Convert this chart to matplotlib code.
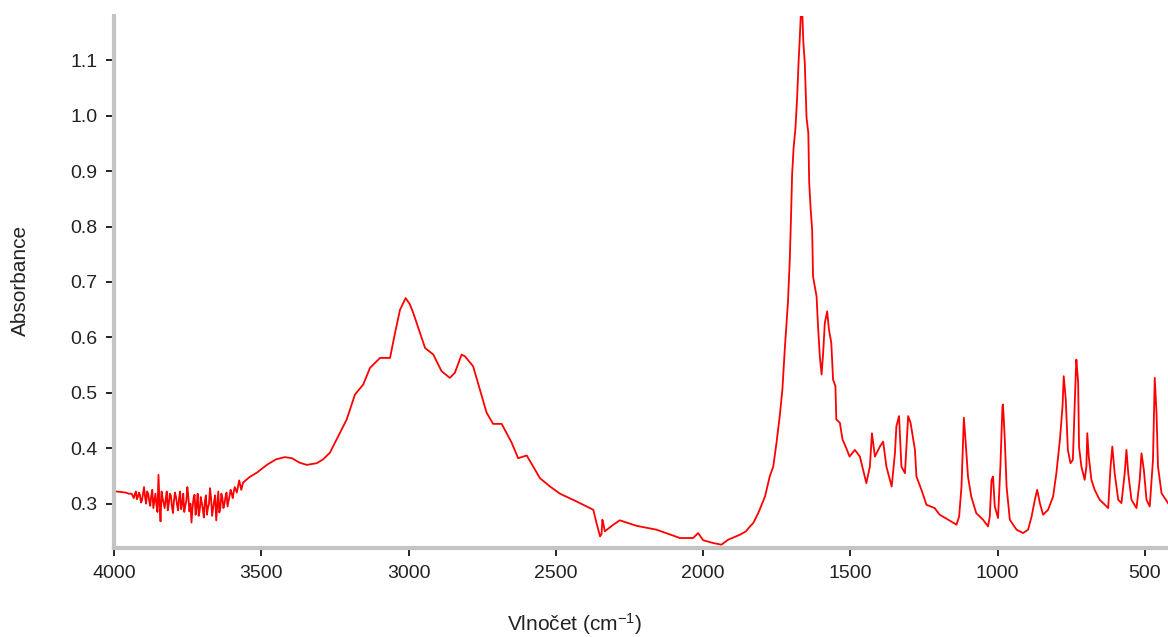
import matplotlib
matplotlib.use("Agg")
import matplotlib.pyplot as plt
from matplotlib.ticker import MultipleLocator

plt.rcParams['font.family'] = ['Liberation Sans', 'DejaVu Sans']
plt.rcParams['mathtext.fontset'] = 'custom'
plt.rcParams['mathtext.rm'] = 'Liberation Sans'
plt.rcParams['mathtext.it'] = 'Liberation Sans'

# Noisy O-H region (cm-1, absorbance)
noise_wn = [
    3940, 3936.5, 3933, 3929.5, 3926, 3922.5, 3919, 3915.5, 3912, 3908.5,
    3905, 3901.5, 3898, 3894.5, 3891, 3887.5, 3884, 3880.5, 3877, 3873.5,
    3870, 3866.5, 3863, 3859.5, 3856, 3852.5, 3849, 3845.5, 3842, 3838.5,
    3835, 3831.5, 3828, 3824.5, 3821, 3817.5, 3814, 3810.5, 3807, 3803.5,
    3800, 3796.5, 3793, 3789.5, 3786, 3782.5, 3779, 3775.5, 3772, 3768.5,
    3765, 3761.5, 3758, 3754.5, 3751, 3747.5, 3744, 3740.5, 3737, 3733.5,
    3730, 3726.5, 3723, 3719.5, 3716, 3712.5, 3709, 3705.5, 3702, 3698.5,
    3695, 3691.5, 3688, 3684.5, 3681, 3677.5, 3674, 3670.5, 3667, 3663.5,
    3660, 3656.5, 3653, 3649.5, 3646, 3642.5, 3639, 3635.5, 3632, 3628.5,
    3625, 3621.5, 3618, 3614.5, 3611, 3607.5, 3604, 3600.5, 3597, 3593.5,
    3590,
]
noise_abs = [
    0.318, 0.314, 0.310, 0.317, 0.322, 0.308, 0.312, 0.320, 0.316, 0.302,
    0.306, 0.318, 0.330, 0.312, 0.300, 0.322, 0.318, 0.305, 0.296, 0.314,
    0.325, 0.292, 0.305, 0.318, 0.298, 0.285, 0.352, 0.300, 0.268, 0.322,
    0.310, 0.301, 0.292, 0.308, 0.322, 0.288, 0.300, 0.318, 0.315, 0.296,
    0.283, 0.305, 0.320, 0.312, 0.298, 0.288, 0.310, 0.322, 0.290, 0.300,
    0.318, 0.285, 0.296, 0.305, 0.330, 0.312, 0.286, 0.300, 0.266, 0.292,
    0.310, 0.316, 0.280, 0.296, 0.318, 0.278, 0.288, 0.312, 0.302, 0.290,
    0.275, 0.305, 0.315, 0.280, 0.293, 0.300, 0.328, 0.310, 0.278, 0.292,
    0.305, 0.315, 0.270, 0.296, 0.322, 0.284, 0.292, 0.318, 0.310, 0.292,
    0.300, 0.312, 0.320, 0.295, 0.305, 0.315, 0.325, 0.318, 0.310, 0.322,
    0.330,
]

# Rest of the spectrum (cm-1, absorbance)
wn_start = [3992, 3975, 3960, 3950]
abs_start = [0.322, 0.321, 0.320, 0.318]

wn_main = [
    3583, 3575, 3568, 3562, 3540, 3515, 3481, 3450, 3420, 3396, 3370, 3346,
    3312, 3290, 3267, 3233, 3210, 3182, 3154, 3131, 3110, 3097, 3063, 3046,
    3029, 3010, 2996, 2984, 2961, 2944, 2916, 2888, 2860, 2843, 2820, 2809,
    2781, 2758, 2735, 2713, 2684, 2650, 2628, 2610, 2599, 2577, 2554, 2520,
    2486, 2430, 2373, 2362, 2350, 2345, 2342, 2338, 2334, 2305, 2283, 2226,
    2158, 2079, 2034, 2017, 2008, 2000, 1966, 1938, 1915, 1875, 1855, 1841,
    1830, 1813, 1790, 1774, 1762, 1751, 1740, 1731, 1723, 1712, 1706, 1702,
    1698, 1693, 1687, 1681, 1676, 1672, 1667, 1664, 1660, 1655, 1649, 1643,
    1640, 1635, 1630, 1627, 1615, 1610, 1604, 1598, 1593, 1587, 1579, 1573,
    1565, 1559, 1551, 1548, 1536, 1527, 1514, 1503, 1485, 1468, 1457, 1446,
    1434, 1427, 1417, 1400, 1389, 1378, 1360, 1349, 1344, 1335, 1327, 1315,
    1304, 1296, 1281, 1276, 1259, 1242, 1214, 1197, 1168, 1140, 1131, 1123,
    1118, 1115, 1109, 1101, 1090, 1073, 1050, 1033, 1027, 1021, 1016, 1010,
    999, 991, 984, 982, 976, 970, 959, 936, 914, 897, 885, 874,
    866, 857, 846, 829, 812, 801, 789, 780, 776, 769, 762, 753,
    745, 739, 735, 733, 727, 724, 716, 705, 699, 696, 691, 682,
    671, 654, 642, 625, 617, 611, 603, 591, 580, 569, 563, 557,
    546, 529, 518, 512, 504, 495, 484, 473, 467, 461, 456, 444,
    422,
]
abs_main = [
    0.320, 0.342, 0.325, 0.338, 0.348, 0.356, 0.370, 0.380, 0.384, 0.382, 0.374, 0.370,
    0.373, 0.380, 0.392, 0.428, 0.452, 0.497, 0.515, 0.545, 0.556, 0.563, 0.563, 0.608,
    0.650, 0.671, 0.660, 0.644, 0.608, 0.581, 0.569, 0.539, 0.527, 0.536, 0.569, 0.566,
    0.548, 0.506, 0.464, 0.444, 0.444, 0.410, 0.382, 0.385, 0.387, 0.367, 0.346, 0.331,
    0.318, 0.304, 0.289, 0.265, 0.241, 0.245, 0.271, 0.262, 0.250, 0.262, 0.270, 0.260,
    0.253, 0.238, 0.238, 0.247, 0.240, 0.234, 0.229, 0.226, 0.235, 0.244, 0.250, 0.259,
    0.265, 0.283, 0.313, 0.349, 0.367, 0.410, 0.458, 0.506, 0.578, 0.665, 0.740, 0.812,
    0.894, 0.942, 0.975, 1.032, 1.098, 1.140, 1.200, 1.195, 1.134, 1.095, 0.996, 0.969,
    0.879, 0.831, 0.795, 0.710, 0.674, 0.620, 0.566, 0.533, 0.569, 0.626, 0.647, 0.614,
    0.590, 0.524, 0.512, 0.452, 0.446, 0.416, 0.400, 0.385, 0.397, 0.385, 0.361, 0.337,
    0.367, 0.427, 0.385, 0.403, 0.412, 0.367, 0.331, 0.391, 0.440, 0.458, 0.367, 0.355,
    0.458, 0.446, 0.397, 0.349, 0.325, 0.298, 0.292, 0.280, 0.271, 0.262, 0.277, 0.331,
    0.410, 0.455, 0.412, 0.349, 0.313, 0.283, 0.271, 0.259, 0.277, 0.343, 0.349, 0.295,
    0.274, 0.367, 0.476, 0.479, 0.415, 0.331, 0.271, 0.253, 0.247, 0.253, 0.277, 0.307,
    0.325, 0.301, 0.280, 0.289, 0.313, 0.355, 0.415, 0.476, 0.530, 0.488, 0.397, 0.373,
    0.379, 0.476, 0.536, 0.560, 0.518, 0.403, 0.367, 0.343, 0.367, 0.427, 0.385, 0.343,
    0.325, 0.307, 0.301, 0.292, 0.367, 0.403, 0.355, 0.307, 0.301, 0.355, 0.397, 0.355,
    0.307, 0.292, 0.343, 0.391, 0.361, 0.307, 0.295, 0.379, 0.527, 0.464, 0.367, 0.319,
    0.301,
]

wavenumber = wn_start + noise_wn + wn_main
absorbance = abs_start + noise_abs + abs_main

W, H = 1168, 637
fig = plt.figure(figsize=(W / 100, H / 100), dpi=100, facecolor='white')
ax = fig.add_axes([114 / W, 1 - 548 / H, (W - 114) / W, (548 - 16) / H])
ax.set_facecolor('white')

ax.plot(wavenumber, absorbance, color='#ff0000', lw=1.3)

ax.set_xlim(4000, 422)
ax.set_ylim(0.22, 1.18)
ax.xaxis.set_major_locator(MultipleLocator(500))
ax.xaxis.set_minor_locator(MultipleLocator(100))
ax.yaxis.set_major_locator(MultipleLocator(0.1))
ax.yaxis.set_minor_locator(MultipleLocator(0.02))
ax.yaxis.set_major_formatter(plt.FuncFormatter(lambda v, p: f"{v:.1f}"))

for s in ['top', 'right']:
    ax.spines[s].set_visible(False)
for s in ['left', 'bottom']:
    ax.spines[s].set_color('#c4c4c4')
    ax.spines[s].set_linewidth(3)

ax.tick_params(which='major', direction='out', length=6, width=1.2, color='black',
               labelsize=14, labelcolor='#222222', pad=6)
ax.tick_params(which='minor', direction='inout', length=2.5, width=1.2, color='black')

fig.text(575 / W, 1 - 624 / H, 'Vlnočet (cm$^{-1}$)', ha='center', va='center',
         fontsize=15, color='#222222')
fig.text(20 / W, 1 - 280 / H, 'Absorbance', ha='center', va='center',
         rotation=90, fontsize=15, color='#222222')

fig.savefig('out.png', dpi=100, facecolor='white')
